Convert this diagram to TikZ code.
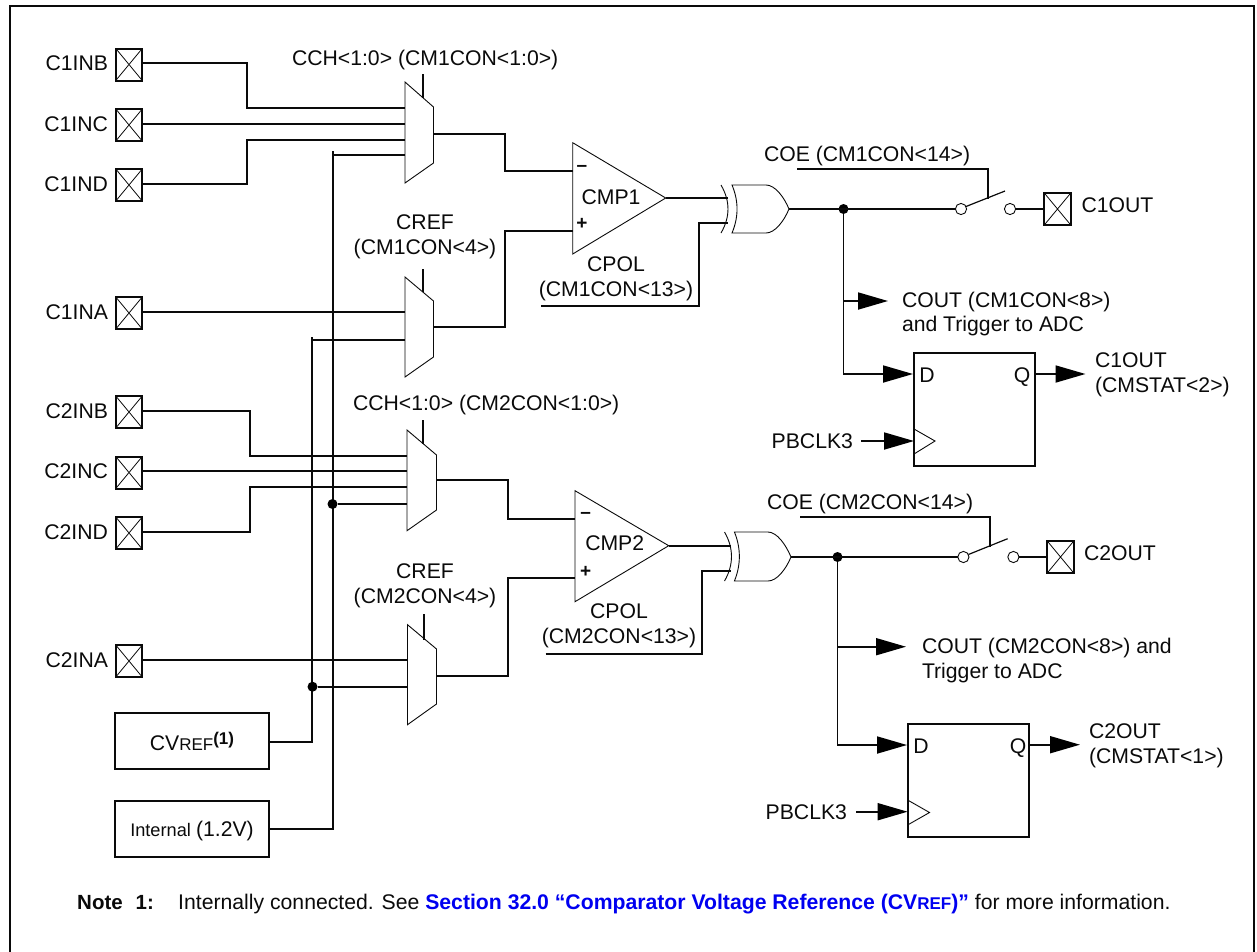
\documentclass[tikz,border=0pt]{standalone}
\usepackage{fontspec}
\setmainfont{Liberation Sans}
\usetikzlibrary{arrows.meta}
\definecolor{inkc}{HTML}{0A0A0A}
\definecolor{linkblue}{RGB}{0,0,240}
\newcommand{\fsz}[1]{\fontsize{#1}{#1}\selectfont}
\tikzset{
  x=1pt,y=-1pt,
  wire/.style={line width=1.8pt,color=inkc,line join=miter},
  thinl/.style={line width=0.9pt,color=inkc},
  arrw/.style={wire,-{Triangle[length=30pt,width=17pt,color=black]}},
  lab/.style={inner sep=0pt,outer sep=0pt,text=inkc,font=\fsz{21.2},text height=15pt,text depth=0pt},
  mlab/.style={inner sep=0pt,outer sep=0pt,text=inkc,font=\fontsize{21.2}{24.6}\selectfont},
  pad/.style={draw=inkc,line width=2pt,minimum width=26.5pt,minimum height=32pt,inner sep=0pt,outer sep=0pt,
    path picture={\draw[line width=0.8pt,color=inkc] (path picture bounding box.north west)--(path picture bounding box.south east)
      (path picture bounding box.north east)--(path picture bounding box.south west);}},
  box/.style={draw=inkc,line width=1.9pt,inner sep=0pt,outer sep=0pt},
  dot/.style={circle,fill=black,inner sep=0pt,minimum size=10pt,outer sep=0pt},
  swc/.style={circle,draw=inkc,fill=white,line width=0.9pt,inner sep=0pt,minimum size=11.2pt,outer sep=0pt},
}
\begin{document}
\begin{tikzpicture}
\useasboundingbox (0,0) rectangle (1257,951);
% frame
\draw[line width=1.9pt,color=inkc] (10.2,5.7) rectangle (1254,960);

% pads
\node[pad] (c1inb) at (129,64.5) {};
\node[pad] (c1inc) at (129,125) {};
\node[pad] (c1ind) at (129,185) {};
\node[pad] (c1ina) at (129,313) {};
\node[pad] (c2inb) at (129,412) {};
\node[pad] (c2inc) at (129,472.5) {};
\node[pad] (c2ind) at (129,533) {};
\node[pad] (c2ina) at (129,661) {};
\node[pad] (c1out) at (1057.5,209) {};
\node[pad] (c2out) at (1060.5,557) {};
\node[lab,anchor=east] (tc1inb) at (108,63) {C1INB};
\node[lab,anchor=east] (tc1inc) at (108,124) {C1INC};
\node[lab,anchor=east] (tc1ind) at (108,184) {C1IND};
\node[lab,anchor=east] (tc1ina) at (108,312) {C1INA};
\node[lab,anchor=east] (tc2inb) at (108,411) {C2INB};
\node[lab,anchor=east] (tc2inc) at (108,471) {C2INC};
\node[lab,anchor=east] (tc2ind) at (108,532) {C2IND};
\node[lab,anchor=east] (tc2ina) at (108,660) {C2INA};

% reference sources
\node[box,minimum width=153.6pt,minimum height=56.6pt] (cvref) at (191.8,741) {};
\node[inner sep=0pt,text=inkc] (tcvref) at (192,741) {\fsz{21.2}CV\fsz{17}REF\raisebox{6pt}{\bfseries\fsz{17}(1)}};
\node[box,minimum width=153.6pt,minimum height=55.7pt] (intref) at (191.8,828.8) {};
\node[inner sep=0pt,text=inkc] (tintref) at (192,830.5) {\fsz{18.2}Internal \fsz{21.2}(1.2V)};

% buses
\coordinate (b1top) at (312,337);
\coordinate (b2top) at (333,151);
\draw[wire] (cvref.east |- 0,741.7) -- (312,741.7) -- (b1top);
\draw[wire] (intref.east |- 0,828.7) -- (333,828.7) -- (b2top);
\node[dot] (j1) at (332.5,504) {};
\node[dot] (j2) at (312.5,686.7) {};

% mux pins
\coordinate (m1a) at (405,107.7);
\coordinate (m1b) at (405,124);
\coordinate (m1c) at (405,139.7);
\coordinate (m1d) at (406,154.7);
\coordinate (m2a) at (406,312);
\coordinate (m2b) at (406,340);
\coordinate (m3a) at (407,455.7);
\coordinate (m3b) at (407,470.7);
\coordinate (m3c) at (407,486.7);
\coordinate (m3d) at (407,504);
\coordinate (m4a) at (408,659.7);
\coordinate (m4b) at (408,686.7);
\coordinate (m1o) at (433.5,134);
\coordinate (m2o) at (433.5,327);
\coordinate (m3o) at (436.5,480);
\coordinate (m4o) at (436.5,675.7);

% input wires
\draw[wire] (c1inb.east |- 0,62.7) -- ++(105,0) |- (m1a);
\draw[wire] (c1inc.east |- m1b) -- (m1b);
\draw[wire] (c1ind.east |- 0,184) -- ++(105,0) |- (m1c);
\draw[wire] (333,154.7) -- (m1d);
\draw[wire] (c1ina.east |- m2a) -- (m2a);
\draw[wire] (312,340) -- (m2b);
\draw[wire] (c2inb.east |- 0,410.7) -- ++(108,0) |- (m3a);
\draw[wire] (c2inc.east |- m3b) -- (m3b);
\draw[wire] (c2ind.east |- 0,532) -- ++(108,0) |- (m3c);
\draw[wire] (j1) -- (m3d);
\draw[wire] (c2ina.east |- m4a) -- (m4a);
\draw[wire] (j2) -- (m4b);

% muxes
\draw[thinl,fill=white] (405,82) coordinate (m1t) -- (433.5,107) -- (433.5,163) -- (405,183) -- cycle;
\draw[thinl,fill=white] (405,277) coordinate (m2t) -- (433.5,301) -- (433.5,357) -- (405,377) -- cycle;
\draw[thinl,fill=white] (407,430) coordinate (m3t) -- (436.5,455) -- (436.5,510) -- (407,530.7) -- cycle;
\draw[thinl,fill=white] (407.5,624.7) coordinate (m4t) -- (436.5,649) -- (436.5,704) -- (407.5,724.7) -- cycle;
\draw[wire] (423,74) coordinate (s1) -- (423,98);
\draw[wire] (423,269) coordinate (s2) -- (423,292);
\draw[wire] (423,420) coordinate (s3) -- (423,444);
\draw[wire] (423.6,614) coordinate (s4) -- (423.6,640);

% mux labels
\node[lab,anchor=west] (tcch1) at (292,58) {CCH<1:0> (CM1CON<1:0>)};
\node[mlab,align=center] (tcref1) at (425,237) {CREF\\(CM1CON<4>)};
\node[lab,anchor=west] (tcch2) at (353,403) {CCH<1:0> (CM2CON<1:0>)};
\node[mlab,align=center] (tcref2) at (425,585.5) {CREF\\(CM2CON<4>)};

% comparators
\draw[thinl,fill=white] (572.7,142.7) coordinate (c1t) -- (665.7,198) coordinate (c1o) -- (572.7,254) -- cycle;
\draw[thinl,fill=white] (575,490.7) coordinate (c2t) -- (668.7,545.7) coordinate (c2o) -- (575,601.7) -- cycle;
\coordinate (c1m) at (572.7,171);
\coordinate (c1p) at (572.7,231);
\coordinate (c2m) at (575,518.7);
\coordinate (c2p) at (575,577.7);
\node[inner sep=0pt,text=inkc,font=\bfseries\fsz{19}] (m1lbl) at (582,168) {–};
\node[inner sep=0pt,text=inkc,font=\bfseries\fsz{19}] (p1lbl) at (582,224) {+};
\node[inner sep=0pt,text=inkc,font=\bfseries\fsz{19}] (m2lbl) at (585.7,515.7) {–};
\node[inner sep=0pt,text=inkc,font=\bfseries\fsz{19}] (p2lbl) at (585.7,572) {+};
\node[lab] (tcmp1) at (611,197) {CMP1};
\node[lab] (tcmp2) at (614.7,543) {CMP2};
\draw[wire] (m1o) -- ++(71.5,0) |- (c1m);
\draw[wire] (m2o) -- ++(71.5,0) |- (c1p);
\draw[wire] (m3o) -- ++(71.5,0) |- (c2m);
\draw[wire] (m4o) -- ++(71.5,0) |- (c2p);

% XOR gates
\coordinate (x1a) at (727.5,198);
\coordinate (x1b) at (727.5,223);
\coordinate (x1o) at (789,209);
\coordinate (x2a) at (730.5,546);
\coordinate (x2b) at (730.5,570.7);
\coordinate (x2o) at (791,557);
\draw[wire] (c1o) -- (x1a);
\draw[wire] (c2o |- x2a) -- (x2a);
\coordinate (cp1) at (541,305.7);
\coordinate (cp2) at (545.5,653.7);
\draw[wire] (cp1) -- ++(158,0) |- (x1b);
\draw[wire] (cp2) -- ++(156.5,0) |- (x2b);
\draw[thinl] (721,185) .. controls (730.3,201) and (730.3,217) .. (721,233);
\draw[thinl] (732,185) .. controls (738.7,201) and (738.7,217) .. (732,233)
  -- (766,233) .. controls (775,233) and (784,221) .. (x1o) .. controls (784,197) and (775,185) .. (766,185) -- cycle;
\draw[thinl] (724.5,532) .. controls (733.8,548) and (733.8,565) .. (724.5,581);
\draw[thinl] (734.4,532) .. controls (741,548) and (741,565) .. (734.4,581)
  -- (768,581) .. controls (777,581) and (786,569) .. (x2o) .. controls (786,545) and (777,532) .. (768,532) -- cycle;
\node[mlab,align=center] (tcpol1) at (616,278.5) {CPOL\\(CM1CON<13>)};
\node[mlab,align=center] (tcpol2) at (619,626) {CPOL\\(CM2CON<13>)};

% outputs and switches
\node[dot] (j3) at (843.5,209) {};
\node[dot] (j4) at (837.5,557) {};
\node[swc] (sw1a) at (961,209) {};
\node[swc] (sw1b) at (1010,209) {};
\node[swc] (sw2a) at (963.4,557) {};
\node[swc] (sw2b) at (1013.4,557) {};
\draw[wire] (x1o) -- (sw1a);
\draw[wire] (x2o) -- (sw2a);
\draw[wire] (sw1b) -- (c1out.west |- sw1b);
\draw[wire] (sw2b) -- (c2out.west |- sw2b);
\draw[line width=1.2pt,color=inkc] (sw1a) ++(5,-2.5) -- (1005,191) coordinate (arm1);
\draw[line width=1.2pt,color=inkc] (sw2a) ++(5,-2.5) -- (1007.6,538.7) coordinate (arm2);
\coordinate (coe1) at (797,169);
\coordinate (coe2) at (800,517);
\draw[wire] (coe1) -- (988,169) -- (988,199);
\draw[wire] (coe2) -- (990,517) -- (990,546.7);
\node[lab,anchor=west] (tcoe1) at (764,154) {COE (CM1CON<14>)};
\node[lab,anchor=west] (tcoe2) at (767,502) {COE (CM2CON<14>)};
\node[lab,anchor=west] (tc1out) at (1081.5,205) {C1OUT};
\node[lab,anchor=west] (tc2out) at (1084,553) {C2OUT};

% flip-flops
\node[box,minimum width=121pt,minimum height=113pt] (ff1) at (974.5,409.5) {};
\node[box,minimum width=121.4pt,minimum height=112.7pt] (ff2) at (968.3,780.4) {};
\draw[thinl] (ff1.west |- 0,429) -- (935,441) -- (ff1.west |- 0,454);
\draw[thinl] (ff2.west |- 0,800) -- (929.5,812.5) -- (ff2.west |- 0,825);
\node[lab] (td1) at (927,375) {D};
\node[lab] (tq1) at (1022,375) {Q};
\node[lab] (td2) at (921,745.7) {D};
\node[lab] (tq2) at (1018,745.7) {Q};
\coordinate (d1) at (913,374);
\coordinate (d2) at (907,745);
\coordinate (cout1) at (888,301);
\coordinate (cout2) at (906,646.7);
\draw[wire] (j3) -- (843.5,374) -- ++(25,0) coordinate (d1m);
\draw[arrw] (d1m) -- (d1);
\draw[wire] (j4) -- (837.5,745) -- ++(25,0) coordinate (d2m);
\draw[arrw] (d2m) -- (d2);
\draw[arrw] (843.5,301) -- (cout1);
\draw[arrw] (837.5,646.7) -- (cout2);
\coordinate (q1) at (1085.5,374);
\coordinate (q2) at (1080,744.7);
\draw[arrw] (ff1.east |- q1) -- (q1);
\draw[arrw] (ff2.east |- q2) -- (q2);
\node[lab,anchor=east] (tclk1) at (853,441) {PBCLK3};
\node[lab,anchor=east] (tclk2) at (847,811.7) {PBCLK3};
\coordinate (clk1a) at (861,441);
\coordinate (clk2a) at (856,811.7);
\draw[arrw] (clk1a) -- (ff1.west |- clk1a);
\draw[arrw] (clk2a) -- (ff2.west |- clk2a);
\node[mlab,align=left,anchor=west] (tcout1) at (902,314) {COUT (CM1CON<8>)\\and Trigger to ADC};
\node[mlab,align=left,anchor=west] (tcout2) at (922,660.5) {COUT (CM2CON<8>) and\\Trigger to ADC};
\node[mlab,align=left,anchor=west] (tq1o) at (1095,375) {C1OUT\\(CMSTAT<2>)};
\node[mlab,align=left,anchor=west] (tq2o) at (1089,745.5) {C2OUT\\(CMSTAT<1>)};

% note
\node[inner sep=0pt,text=inkc,anchor=west,font=\bfseries\fsz{20.5},text height=15pt,text depth=0pt] (tnote) at (77,902) {Note\hspace{13pt}1:};
\node[inner sep=0pt,text=inkc,anchor=west,font=\fsz{21.2},text height=15pt,text depth=0pt] (tnotebody) at (178,902) {Internally connected. See {\bfseries\color{linkblue}Section 32.0 “Comparator Voltage Reference (CV\fsz{17}REF\fsz{21.2})”} for more information.};
\end{tikzpicture}
\end{document}
